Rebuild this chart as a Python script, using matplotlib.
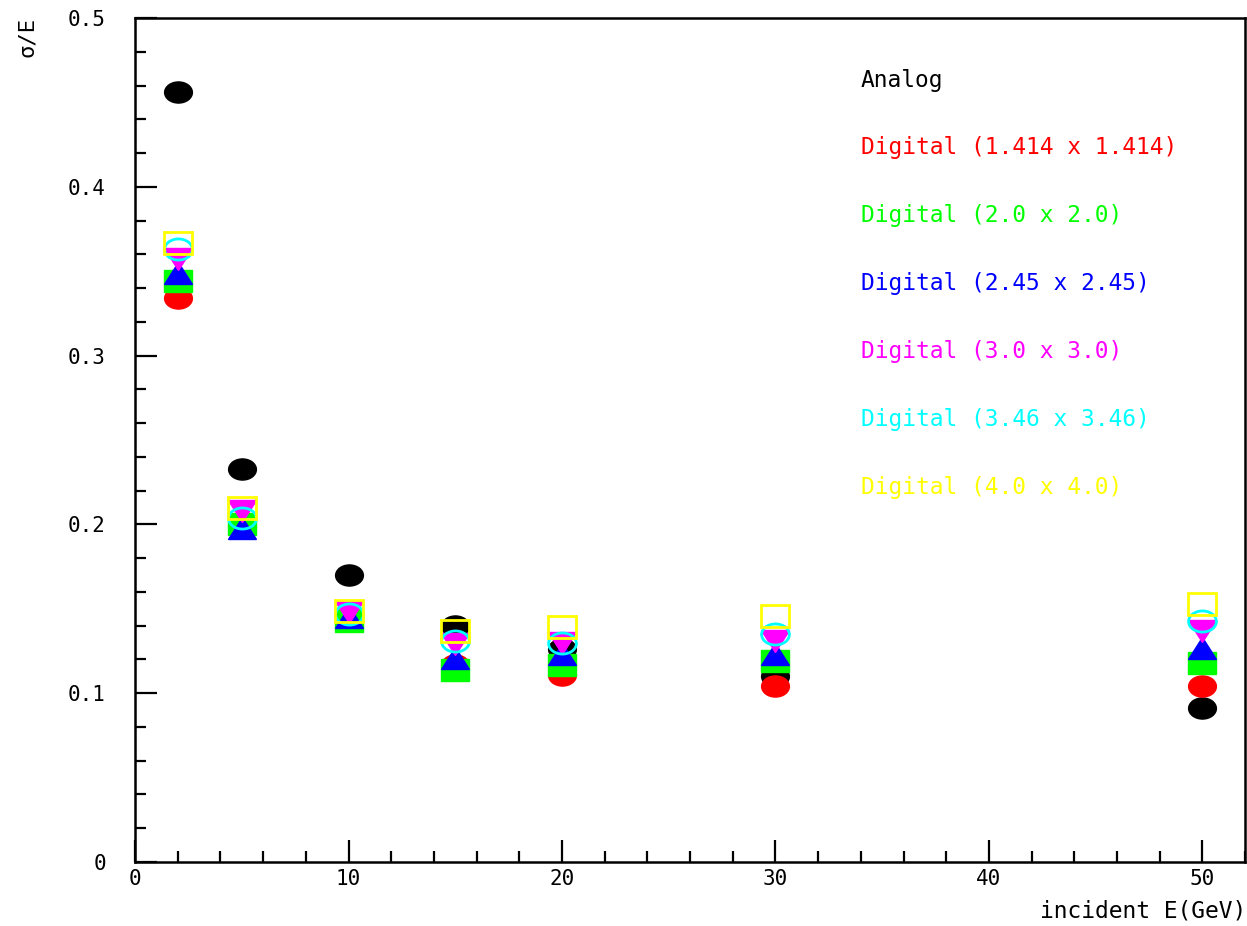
import numpy as np
import matplotlib
matplotlib.use("Agg")
import matplotlib.pyplot as plt
from matplotlib.markers import MarkerStyle
from matplotlib.transforms import Affine2D
from matplotlib.ticker import MultipleLocator

# beam energies and sigma/E for each readout
energy = [2, 5, 10, 15, 20, 30, 50]
analog = [0.456, 0.233, 0.170, 0.140, 0.126, 0.110, 0.091]
dig_1414 = [0.334, 0.199, 0.145, 0.117, 0.111, 0.104, 0.104]
dig_20 = [0.344, 0.200, 0.143, 0.114, 0.117, 0.119, 0.118]
dig_245 = [0.349, 0.198, 0.145, 0.121, 0.123, 0.123, 0.127]
dig_30 = [0.357, 0.208, 0.148, 0.129, 0.130, 0.131, 0.137]
dig_346 = [0.363, 0.204, 0.147, 0.131, 0.130, 0.135, 0.143]
dig_40 = [0.367, 0.210, 0.149, 0.137, 0.139, 0.146, 0.153]

labels = ["Analog", "Digital (1.414 x 1.414)", "Digital (2.0 x 2.0)",
          "Digital (2.45 x 2.45)", "Digital (3.0 x 3.0)",
          "Digital (3.46 x 3.46)", "Digital (4.0 x 4.0)"]
series = [analog, dig_1414, dig_20, dig_245, dig_30, dig_346, dig_40]
colors = ["black", "#ff0000", "#00ff00", "#0000ff", "#ff00ff", "#00ffff", "#ffff00"]
markers = ["o", "o", "s", "^", "v", "o", "s"]
filled = [True, True, True, True, True, False, False]

plt.rcParams["font.family"] = ["DejaVu Sans Mono", "DejaVu Sans"]

fig = plt.figure(figsize=(12.47, 9.26), dpi=100)
ax = fig.add_axes([0.1083, 0.0691, 0.8902, 0.9114])

squash = Affine2D().scale(1.0, 0.76)  # markers look flattened in the original
for i, (vals, c, m, f) in enumerate(zip(series, colors, markers, filled)):
    ms = MarkerStyle(m, transform=squash)
    if f:
        ax.plot(energy, vals, linestyle="none", marker=ms, markersize=20,
                color=c, markeredgecolor=c, zorder=3 + i)
    else:
        ax.plot(energy, vals, linestyle="none", marker=ms, markersize=20,
                markerfacecolor="none", markeredgecolor=c, markeredgewidth=2,
                zorder=3 + i)

# text legend
for i, (lab, c) in enumerate(zip(labels, colors)):
    ax.text(34.0, 0.4633 - 0.0402 * i, lab, color=c, fontsize=16.5,
            va="center", ha="left")

ax.set_xlim(0, 52)
ax.set_ylim(0, 0.5)
ax.xaxis.set_major_locator(MultipleLocator(10))
ax.xaxis.set_minor_locator(MultipleLocator(2))
ax.yaxis.set_major_locator(MultipleLocator(0.1))
ax.yaxis.set_minor_locator(MultipleLocator(0.02))
ax.set_yticks(np.arange(0, 0.51, 0.1))
ax.set_yticklabels(["0", "0.1", "0.2", "0.3", "0.4", "0.5"])
ax.tick_params(which="both", direction="in", top=False, right=False,
               labelsize=15, width=1.6)
ax.tick_params(which="major", length=15.5)
ax.tick_params(which="minor", length=8)
ax.tick_params(axis="y", which="major", pad=21)
ax.tick_params(axis="x", which="major", pad=5)
for s in ax.spines.values():
    s.set_linewidth(1.8)

fig.text(0.022, 0.982, "σ/E", rotation=90, fontsize=16, ha="center", va="top")
fig.text(0.999, 0.004, "incident E(GeV)", fontsize=16.5, ha="right", va="bottom")

fig.savefig("out.png", dpi=100)
